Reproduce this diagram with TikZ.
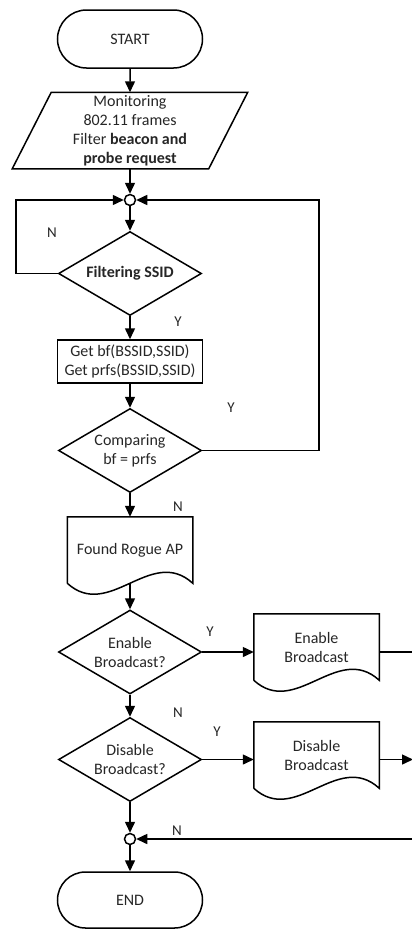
\documentclass[tikz,border=0pt]{standalone}
\usepackage{fontspec}
\setmainfont{Carlito}
\usetikzlibrary{shapes.geometric,shapes.misc,arrows.meta,calc}

% document symbol: straight top and sides, wavy bottom edge
\newcommand\docoutline[1]{%
  \draw (#1.south west) -- (#1.north west) -- (#1.north east) -- (#1.south east)
    .. controls ($(#1.south east)!1/3!(#1.south west)+(0,-38)$)
       and ($(#1.south east)!2/3!(#1.south west)+(0,38)$) .. (#1.south west);}

\begin{document}
\begin{tikzpicture}[x=1pt,y=-1pt,line width=1.5pt,
  every node/.style={font=\fontsize{16}{19}\selectfont,text=black!85,align=center,inner sep=0pt},
  term/.style={draw,text=black!85,rounded rectangle,minimum width=145,minimum height=58},
  decision/.style={draw,diamond,aspect=1.72,minimum width=143,minimum height=84},
  process/.style={draw,rectangle,minimum width=145,minimum height=43},
  docbox/.style={rectangle,minimum width=124,minimum height=65},
  junction/.style={draw,circle,fill=white,minimum size=11},
  flow/.style={-{Triangle[length=11pt,width=10pt]}},
  lbl/.style={font=\fontsize{15}{18}\selectfont}]

\useasboundingbox (0,0) rectangle (412,929);
\clip (0,0) rectangle (412,929);

% main column
\node[term] (start) at (130,39) {START};
\node[rectangle,minimum width=195,minimum height=75] (par) at (130,130.5)
  {Monitoring\\802.11 frames\\Filter \textbf{beacon and}\\\textbf{probe request}};
\draw ($(par.south west)+(-19.5,0)$) -- ($(par.north west)+(19.5,0)$)
   -- ($(par.north east)+(19.5,0)$) -- ($(par.south east)+(-19.5,0)$) -- cycle;
\node[junction] (j1) at (130,200) {};
\node[decision] (filt) at (130,273.5) {\textbf{Filtering SSID}};
\node[process] (get) at (130,361.5) {Get bf(BSSID,SSID)\\Get prfs(BSSID,SSID)};
\node[decision] (cmp) at (130,450.5) {Comparing\\bf = prfs};
\node[docbox] (rogue) at (130,550) {Found Rogue AP};
\node[decision] (enq) at (130,652) {Enable\\Broadcast?};
\node[decision] (disq) at (130,759.5) {Disable\\Broadcast?};
\node[junction] (j2) at (130,839) {};
\node[term,minimum height=56] (end) at (130,900) {END};

% side column
\node[docbox] (enab) at (316.5,647) {Enable\\Broadcast};
\node[docbox] (disab) at (316.5,755) {Disable\\Broadcast};
\docoutline{rogue}
\docoutline{enab}
\docoutline{disab}

% routing points
\coordinate (lp) at (16,273.5);
\coordinate (rp) at (319,200);
\coordinate (edge) at (413,652);

% connectors
\draw[flow] (start) -- (par);
\draw[flow] (par.south) -- (j1);
\draw[flow] (j1) -- (filt);
\draw[flow] (filt.west) -- (lp) |- (j1);
\draw[flow] (filt) -- (get);
\draw[flow] (get) -- (cmp);
\draw[flow] (cmp.east) -- (cmp.east -| rp) -- (rp) -- (j1);
\draw[flow] (cmp) -- (rogue.north);
\draw[flow] (rogue.south) -- (enq);
\draw[flow] (enq.east) -- (enq.east -| enab.west);
\draw[flow] (enq) -- (disq);
\draw[flow] (disq.east) -- (disq.east -| disab.west);
\draw[flow] (disq) -- (j2);
\draw[flow] (j2) -- (end);
\draw[flow] (enq.east -| enab.east) -- (edge) |- (j2);
\draw[flow] (disq.east -| disab.east) -- (disq.east -| edge);

% branch labels
\node[lbl] (ln1) at (52,233) {N};
\node[lbl] (ly1) at (178,322) {Y};
\node[lbl] (ly2) at (231,408) {Y};
\node[lbl] (ln2) at (178,507) {N};
\node[lbl] (ly3) at (210,632) {Y};
\node[lbl] (ln3) at (178,713) {N};
\node[lbl] (ly4) at (217,732) {Y};
\node[lbl] (ln4) at (177,831) {N};
\end{tikzpicture}
\end{document}
